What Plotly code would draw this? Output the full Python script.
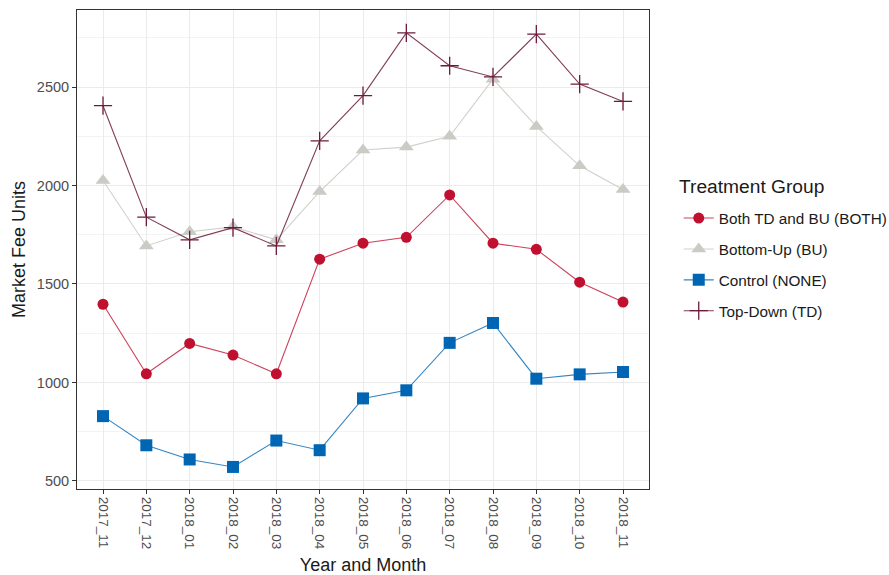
import plotly.graph_objects as go

months = ["2017_11", "2017_12", "2018_01", "2018_02", "2018_03", "2018_04", "2018_05",
          "2018_06", "2018_07", "2018_08", "2018_09", "2018_10", "2018_11"]
both = [1397, 1044, 1198, 1139, 1044, 1626, 1707, 1737, 1952, 1707, 1676, 1509, 1408]
bottom_up = [2025, 1693, 1765, 1790, 1724, 1969, 2180, 2195, 2250, 2540, 2300, 2100, 1980]
control = [829, 681, 609, 571, 705, 656, 919, 960, 1201, 1302, 1019, 1041, 1053]
top_down = [2405, 1839, 1724, 1786, 1693, 2227, 2456, 2775, 2608, 2551, 2769, 2515, 2427]
legend_title = "Treatment Group"

series = [
    ("Both TD and BU (BOTH)", both, "#C0102F", "rgba(192,16,47,0.8)", "circle", 11),
    ("Bottom-Up (BU)", bottom_up, "#CBCBC5", "rgba(203,203,197,0.9)", "triangle-up", 13),
    ("Control (NONE)", control, "#0066B3", "rgba(0,102,179,0.8)", "square", 12),
    ("Top-Down (TD)", top_down, "#6B1B3A", "rgba(107,27,58,0.85)", "cross-thin", 13),
]

fig = go.Figure()
for name, vals, mcol, lcol, sym, size in series:
    marker = dict(symbol=sym, size=size, color=mcol)
    if sym == "cross-thin":
        marker["line"] = dict(color=mcol, width=1.3)
    else:
        marker["line"] = dict(width=0)
    fig.add_trace(go.Scatter(
        x=months, y=vals, name=name, mode="lines+markers",
        line=dict(color=lcol, width=1.1), marker=marker, legendgroup=name,
    ))

font_family = "Liberation Sans, Arial, sans-serif"
fig.update_layout(
    width=889, height=575,
    margin=dict(l=77, r=240, t=10, b=86, autoexpand=False),
    plot_bgcolor="white", paper_bgcolor="white",
    font=dict(family=font_family, size=14, color="#4D4D4D"),
    showlegend=True,
    legend=dict(
        x=1.052, xanchor="left", y=0.60, yanchor="top",
        font=dict(size=15.3, color="#1a1a1a"), tracegroupgap=8,
        bgcolor="rgba(0,0,0,0)",
    ),
    annotations=[dict(
        text=legend_title, xref="paper", yref="paper", x=1.049, y=0.6305,
        xanchor="left", yanchor="middle", showarrow=False,
        font=dict(size=19.2, color="#1a1a1a"),
    )],
    xaxis=dict(
        type="category", range=[-0.6, 12.6], automargin=False,
        title=dict(text="Year and Month", font=dict(size=18, color="#1a1a1a"), standoff=10),
        tickangle=90, tickfont=dict(size=13.5, color="#4D4D4D"),
        showgrid=True, gridcolor="#EBEBEB", gridwidth=1,
        ticks="outside", ticklen=4, tickcolor="#333333",
        showline=True, linecolor="#333333", linewidth=1, mirror=True,
        zeroline=False,
    ),
    yaxis=dict(
        range=[459, 2891], automargin=False,
        title=dict(text="Market Fee Units", font=dict(size=18, color="#1a1a1a"), standoff=6),
        tick0=500, dtick=500, tickfont=dict(size=14.5, color="#4D4D4D"),
        showgrid=True, gridcolor="#EBEBEB", gridwidth=1,
        minor=dict(dtick=250, tick0=500, showgrid=True, gridcolor="#F3F3F3", gridwidth=1, ticks=""),
        ticks="outside", ticklen=4, tickcolor="#333333",
        showline=True, linecolor="#333333", linewidth=1, mirror=True,
        zeroline=False,
    ),
)

fig.write_html("out.html", config={"displayModeBar": False},
               post_script="document.body.style.margin='0';")
